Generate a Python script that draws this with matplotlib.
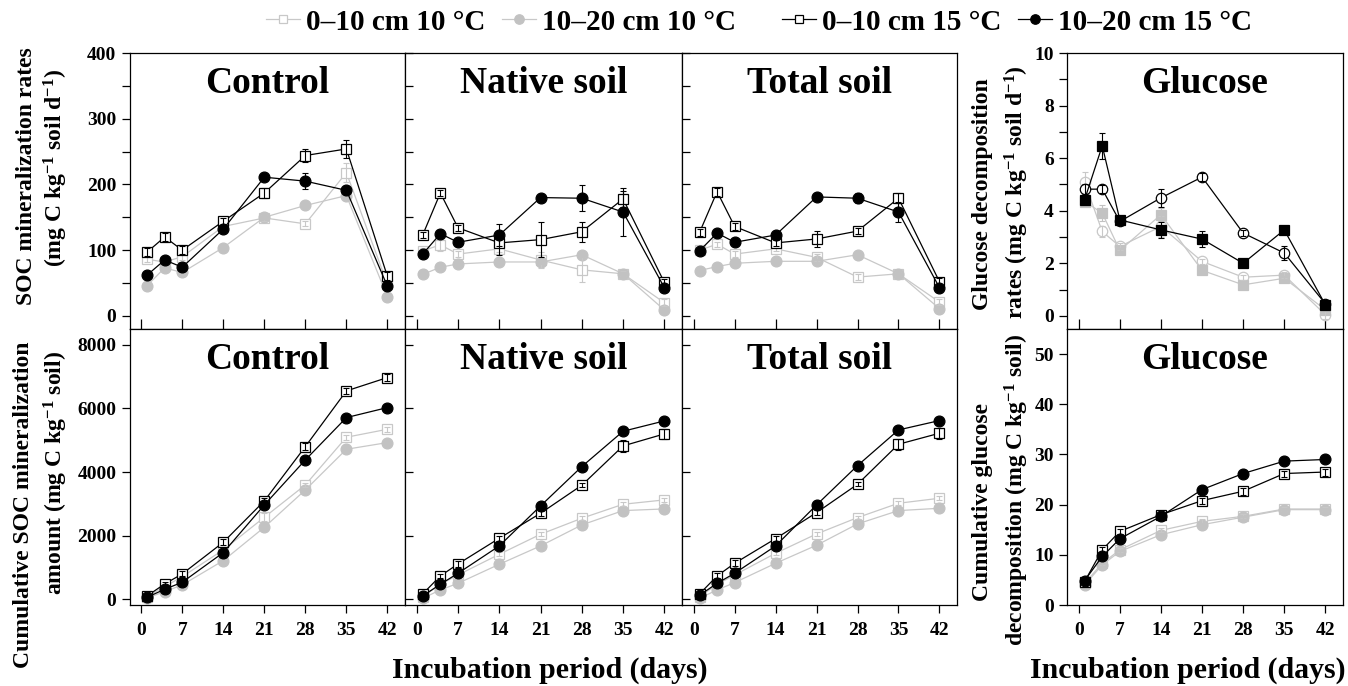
import matplotlib
matplotlib.use("Agg")
import matplotlib.pyplot as plt
from matplotlib.ticker import MultipleLocator
from matplotlib.lines import Line2D

plt.rcParams['font.family'] = 'Liberation Serif'
plt.rcParams['font.weight'] = 'bold'
plt.rcParams['mathtext.fontset'] = 'custom'
plt.rcParams['mathtext.rm'] = 'Liberation Serif:bold'
plt.rcParams['mathtext.bf'] = 'Liberation Serif:bold'
plt.rcParams['mathtext.default'] = 'bf'

# sampling days
days = [1, 4, 7, 14, 21, 28, 35, 42]

# SOC / glucose decomposition rates (top row)
ctrl_rate_a10 = [86, 82, 90, 136, 149, 140, 218, 48]
ctrl_rate_b10 = [46, 73, 66, 104, 150, 168, 183, 29]
ctrl_rate_a15 = [97, 120, 100, 144, 187, 244, 254, 60]
ctrl_rate_b15 = [62, 85, 74, 132, 211, 205, 191, 45]

native_rate_a10 = [99, 108, 94, 102, 85, 70, 64, 20]
native_rate_b10 = [63, 74, 79, 82, 82, 93, 64, 9]
native_rate_a15 = [123, 187, 134, 111, 116, 128, 178, 51]
native_rate_b15 = [94, 125, 112, 123, 180, 179, 158, 43]

total_rate_a10 = [100, 109, 94, 102, 89, 59, 64, 21]
total_rate_b10 = [69, 75, 80, 83, 83, 93, 64, 11]
total_rate_a15 = [127, 189, 136, 111, 117, 129, 179, 52]
total_rate_b15 = [99, 126, 112, 123, 181, 179, 158, 43]

gluc_rate_a10 = [5.08, 3.21, 2.64, 3.4, 2.07, 1.47, 1.55, 0.04]
gluc_rate_b10 = [4.35, 3.91, 2.49, 3.85, 1.73, 1.18, 1.43, 0.23]
gluc_rate_a15 = [4.82, 4.82, 3.59, 4.49, 5.28, 3.15, 2.39, 0.46]
gluc_rate_b15 = [4.42, 6.47, 3.65, 3.27, 2.92, 2.0, 3.27, 0.42]

# cumulative amounts (bottom row)
ctrl_cum_a10 = [84, 398, 713, 1552, 2579, 3596, 5096, 5347]
ctrl_cum_b10 = [40, 241, 451, 1216, 2265, 3439, 4718, 4928]
ctrl_cum_a15 = [105, 482, 797, 1793, 3093, 4802, 6553, 6973]
ctrl_cum_b15 = [63, 315, 535, 1468, 2967, 4383, 5714, 6029]

native_cum_a10 = [84, 470, 765, 1415, 2045, 2548, 2988, 3125]
native_cum_b10 = [31, 294, 503, 1101, 1678, 2338, 2789, 2841]
native_cum_a15 = [168, 734, 1111, 1919, 2705, 3586, 4823, 5200]
native_cum_b15 = [105, 472, 818, 1678, 2936, 4173, 5284, 5609]

total_cum_a10 = [84, 470, 765, 1447, 2055, 2569, 3020, 3177]
total_cum_b10 = [31, 294, 524, 1132, 1699, 2370, 2789, 2862]
total_cum_a15 = [168, 734, 1132, 1908, 2726, 3617, 4875, 5222]
total_cum_b15 = [126, 503, 818, 1678, 2967, 4205, 5326, 5620]

gluc_cum_a10 = [4.33, 8.3, 11.0, 14.87, 16.67, 17.67, 19.13, 19.13]
gluc_cum_b10 = [4.0, 8.0, 10.67, 14.0, 16.0, 17.5, 19.0, 19.0]
gluc_cum_a15 = [4.67, 11.0, 14.67, 18.0, 20.8, 22.67, 26.2, 26.5]
gluc_cum_b15 = [4.87, 9.67, 13.2, 17.67, 23.0, 26.2, 28.67, 29.0]

# standard errors (rough)
ctrl_rate_err_a10 = [4, 4, 5, 5, 4, 4, 15, 5]
ctrl_rate_err_b10 = [3, 3, 3, 3, 3, 3, 5, 3]
ctrl_rate_err_a15 = [6, 6, 6, 5, 8, 10, 14, 6]
ctrl_rate_err_b15 = [3, 4, 4, 4, 3, 12, 6, 4]
native_rate_err_a10 = [4, 10, 5, 5, 12, 19, 4, 5]
native_rate_err_b10 = [3, 3, 3, 3, 3, 3, 3, 3]
native_rate_err_a15 = [5, 5, 5, 18, 27, 15, 12, 5]
native_rate_err_b15 = [4, 5, 5, 17, 3, 20, 36, 4]
total_rate_err_a10 = [4, 4, 5, 4, 5, 5, 3, 4]
total_rate_err_b10 = [3, 3, 3, 3, 3, 3, 3, 3]
total_rate_err_a15 = [5, 6, 6, 5, 12, 5, 8, 5]
total_rate_err_b15 = [3, 3, 3, 6, 3, 8, 15, 3]
gluc_rate_err_a10 = [0.4, 0.2, 0.15, 0.4, 0.1, 0.1, 0.1, 0.15]
gluc_rate_err_b10 = [0.1, 0.3, 0.1, 0.25, 0.1, 0.1, 0.1, 0.05]
gluc_rate_err_a15 = [0.2, 0.15, 0.1, 0.35, 0.15, 0.1, 0.25, 0.1]
gluc_rate_err_b15 = [0.15, 0.5, 0.15, 0.3, 0.3, 0.15, 0.15, 0.1]

ctrl_cum_err_a10 = [30, 40, 60, 100, 120, 70, 80, 80]
ctrl_cum_err_b10 = [30, 30, 30, 40, 40, 40, 40, 40]
ctrl_cum_err_a15 = [30, 50, 80, 100, 90, 120, 100, 100]
ctrl_cum_err_b15 = [30, 40, 40, 40, 40, 40, 40, 40]
native_cum_err_a10 = [30, 60, 60, 60, 60, 60, 60, 70]
native_cum_err_b10 = [30, 30, 30, 30, 30, 30, 30, 30]
native_cum_err_a15 = [40, 60, 100, 80, 80, 60, 200, 170]
native_cum_err_b15 = [40, 40, 60, 60, 60, 60, 60, 60]
total_cum_err_a10 = [30, 60, 60, 60, 60, 60, 60, 70]
total_cum_err_b10 = [30, 30, 30, 30, 30, 30, 30, 30]
total_cum_err_a15 = [40, 80, 100, 80, 80, 60, 180, 170]
total_cum_err_b15 = [40, 40, 60, 60, 60, 60, 60, 60]
gluc_cum_err_a10 = [0.4, 0.4, 0.4, 0.4, 0.4, 0.4, 0.4, 0.4]
gluc_cum_err_b10 = [0.3, 0.3, 0.3, 0.3, 0.3, 0.3, 0.3, 0.3]
gluc_cum_err_a15 = [0.4, 0.5, 0.5, 0.4, 0.6, 0.7, 0.6, 0.7]
gluc_cum_err_b15 = [0.3, 0.3, 0.3, 0.3, 0.3, 0.3, 0.3, 0.3]

legend_labels = ['0–10 cm 10 °C', '10–20 cm 10 °C', '0–10 cm 15 °C', '10–20 cm 15 °C']

GL = '#c8c8c8'   # light grey line
GF = '#c2c2c2'   # grey fill

W, H = 1348, 686
fig = plt.figure(figsize=(W / 100, H / 100), dpi=100)


def px_axes(x0, x1, y0, y1):
    return fig.add_axes([x0 / W, 1 - y1 / H, (x1 - x0) / W, (y1 - y0) / H])


def styles(swap):
    # swap: glucose rate panel uses circles for 0-10 cm and squares for 10-20 cm
    m_a, m_b = ('o', 's') if swap else ('s', 'o')
    sa, sb = (7.5, 6.5) if swap else (6.9, 7.8)
    return [
        dict(color=GL, marker=m_a, ms=sa, mfc='white', mec=GL, z=2),
        dict(color=GL, marker=m_b, ms=sb, mfc=GF, mec=GF, z=2),
        dict(color='black', marker=m_a, ms=sa, mfc='white', mec='black', z=3),
        dict(color='black', marker=m_b, ms=sb, mfc='black', mec='black', z=3),
    ]


def draw(ax, series, errs, swap=False):
    for vals, err, st in zip(series, errs, styles(swap)):
        ax.plot(days, vals, color=st['color'], lw=0.9, marker=st['marker'], ms=st['ms'],
                mfc=st['mfc'], mec=st['mec'], mew=0.9, zorder=st['z'])
        ax.errorbar(days, vals, yerr=err, fmt='none', ecolor=st['mec'], elinewidth=0.8,
                    capsize=2.5, capthick=0.8, zorder=st['z'] + 0.5)


def style_axes(ax, top_row, first_col):
    ax.set_xlim(-2, 45)
    ax.set_xticks(range(0, 43, 7))
    for s in ax.spines.values():
        s.set_linewidth(0.9)
    if top_row:
        ax.tick_params(axis='x', direction='in', length=7, width=0.9, labelbottom=False)
    else:
        ax.tick_params(axis='x', direction='out', length=6, width=0.9, labelsize=14, pad=6)
    if first_col:
        ax.tick_params(axis='y', which='both', direction='out', length=6, width=0.9, labelsize=14)
    else:
        ax.tick_params(axis='y', which='both', direction='in', length=6, width=0.9, labelleft=False)


cols = [(129.5, 405), (405, 682), (682, 957)]
titles = ['Control', 'Native soil', 'Total soil']
top_rows = [
    ([ctrl_rate_a10, ctrl_rate_b10, ctrl_rate_a15, ctrl_rate_b15],
     [ctrl_rate_err_a10, ctrl_rate_err_b10, ctrl_rate_err_a15, ctrl_rate_err_b15]),
    ([native_rate_a10, native_rate_b10, native_rate_a15, native_rate_b15],
     [native_rate_err_a10, native_rate_err_b10, native_rate_err_a15, native_rate_err_b15]),
    ([total_rate_a10, total_rate_b10, total_rate_a15, total_rate_b15],
     [total_rate_err_a10, total_rate_err_b10, total_rate_err_a15, total_rate_err_b15]),
]
bottom_rows = [
    ([ctrl_cum_a10, ctrl_cum_b10, ctrl_cum_a15, ctrl_cum_b15],
     [ctrl_cum_err_a10, ctrl_cum_err_b10, ctrl_cum_err_a15, ctrl_cum_err_b15]),
    ([native_cum_a10, native_cum_b10, native_cum_a15, native_cum_b15],
     [native_cum_err_a10, native_cum_err_b10, native_cum_err_a15, native_cum_err_b15]),
    ([total_cum_a10, total_cum_b10, total_cum_a15, total_cum_b15],
     [total_cum_err_a10, total_cum_err_b10, total_cum_err_a15, total_cum_err_b15]),
]

for i, ((x0, x1), title) in enumerate(zip(cols, titles)):
    # top: rates
    ax = px_axes(x0, x1, 53, 329)
    draw(ax, *top_rows[i])
    ax.set_ylim(-20, 400)
    ax.yaxis.set_major_locator(MultipleLocator(100))
    ax.yaxis.set_minor_locator(MultipleLocator(50))
    style_axes(ax, True, i == 0)
    ax.text(0.5, 0.89, title, transform=ax.transAxes, ha='center', va='center', fontsize=27)

    # bottom: cumulative
    ax = px_axes(x0, x1, 329, 605)
    draw(ax, *bottom_rows[i])
    ax.set_ylim(-180, 8500)
    ax.set_yticks(range(0, 8001, 2000))
    style_axes(ax, False, i == 0)
    ax.text(0.5, 0.89, title, transform=ax.transAxes, ha='center', va='center', fontsize=27)

# glucose panels
ax = px_axes(1067, 1343, 53, 329)
draw(ax, [gluc_rate_a10, gluc_rate_b10, gluc_rate_a15, gluc_rate_b15],
     [gluc_rate_err_a10, gluc_rate_err_b10, gluc_rate_err_a15, gluc_rate_err_b15], swap=True)
ax.set_ylim(-0.5, 10)
ax.yaxis.set_major_locator(MultipleLocator(2))
ax.yaxis.set_minor_locator(MultipleLocator(1))
style_axes(ax, True, True)
ax.text(0.5, 0.89, 'Glucose', transform=ax.transAxes, ha='center', va='center', fontsize=27)

ax = px_axes(1067, 1343, 329, 605)
draw(ax, [gluc_cum_a10, gluc_cum_b10, gluc_cum_a15, gluc_cum_b15],
     [gluc_cum_err_a10, gluc_cum_err_b10, gluc_cum_err_a15, gluc_cum_err_b15])
ax.set_ylim(0, 55)
ax.set_yticks(range(0, 51, 10))
style_axes(ax, False, True)
ax.text(0.5, 0.89, 'Glucose', transform=ax.transAxes, ha='center', va='center', fontsize=27)

# axis labels
ylab = dict(rotation=90, ha='center', va='center', fontsize=17)
sup = r'$^{-1}$'
fig.text(27 / W, 1 - 176 / H, 'SOC mineralization rates', **ylab)
fig.text(56 / W, 1 - 168 / H, '(mg C kg' + sup + ' soil d' + sup + ')', **ylab)
fig.text(24 / W, 1 - 505 / H, 'Cumulative SOC mineralization', **ylab)
fig.text(56 / W, 1 - 473 / H, 'amount (mg C kg' + sup + ' soil)', **ylab)
fig.text(983 / W, 1 - 194 / H, 'Glucose decomposition', **ylab)
fig.text(1017 / W, 1 - 192 / H, 'rates (mg C kg' + sup + ' soil d' + sup + ')', **ylab)
fig.text(983 / W, 1 - 502 / H, 'Cumulative glucose', **ylab)
fig.text(1017 / W, 1 - 490 / H, 'decomposition (mg C kg' + sup + ' soil)', **ylab)
fig.text(550 / W, 1 - 670 / H, 'Incubation period (days)', ha='center', va='center', fontsize=21.5)
fig.text(1188 / W, 1 - 670 / H, 'Incubation period (days)', ha='center', va='center', fontsize=21.5)

# legend, split in two groups like the original
handles = []
for st in styles(False):
    handles.append(Line2D([], [], color=st['color'], lw=0.9, marker=st['marker'],
                          ms=st['ms'] - 1, mfc=st['mfc'], mec=st['mec'], mew=0.9))
leg_kw = dict(loc='center', ncol=2, frameon=False, fontsize=21, handlelength=1.15,
              handletextpad=0.2, columnspacing=0.6, borderpad=0, borderaxespad=0)
fig.legend(handles[:2], legend_labels[:2], bbox_to_anchor=(501 / W, 1 - 22 / H), **leg_kw)
fig.legend(handles[2:], legend_labels[2:], bbox_to_anchor=(1017 / W, 1 - 22 / H), **leg_kw)

fig.savefig('out.png', dpi=100)
